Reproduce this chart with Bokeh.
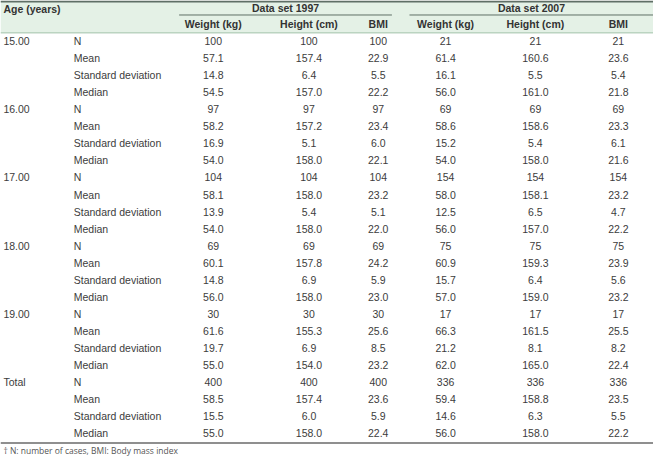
from bokeh.plotting import figure
from bokeh.models import Range1d, ColumnDataSource
from bokeh.embed import file_html
from bokeh.resources import INLINE
from bokeh.core.properties import value

# ---------------- data ----------------
ages = ["15.00", "16.00", "17.00", "18.00", "19.00", "Total"]
stats = ["N", "Mean", "Standard deviation", "Median"]
datasets = ["Data set 1997", "Data set 2007"]
measures = ["Weight (kg)", "Height (cm)", "BMI"]

weight_1997 = [100, 57.1, 14.8, 54.5, 97, 58.2, 16.9, 54.0, 104, 58.1, 13.9, 54.0,
               69, 60.1, 14.8, 56.0, 30, 61.6, 19.7, 55.0, 400, 58.5, 15.5, 55.0]
height_1997 = [100, 157.4, 6.4, 157.0, 97, 157.2, 5.1, 158.0, 104, 158.0, 5.4, 158.0,
               69, 157.8, 6.9, 158.0, 30, 155.3, 6.9, 154.0, 400, 157.4, 6.0, 158.0]
bmi_1997 = [100, 22.9, 5.5, 22.2, 97, 23.4, 6.0, 22.1, 104, 23.2, 5.1, 22.0,
            69, 24.2, 5.9, 23.0, 30, 25.6, 8.5, 23.2, 400, 23.6, 5.9, 22.4]
weight_2007 = [21, 61.4, 16.1, 56.0, 69, 58.6, 15.2, 54.0, 154, 58.0, 12.5, 56.0,
               75, 60.9, 15.7, 57.0, 17, 66.3, 21.2, 62.0, 336, 59.4, 14.6, 56.0]
height_2007 = [21, 160.6, 5.5, 161.0, 69, 158.6, 5.4, 158.0, 154, 158.1, 6.5, 157.0,
               75, 159.3, 6.4, 159.0, 17, 161.5, 8.1, 165.0, 336, 158.8, 6.3, 158.0]
bmi_2007 = [21, 23.6, 5.4, 21.8, 69, 23.3, 6.1, 21.6, 154, 23.2, 4.7, 22.2,
            75, 23.9, 5.6, 23.2, 17, 25.5, 8.2, 22.4, 336, 23.5, 5.5, 22.2]

footnote = "\u2020 N: number of cases, BMI: Body mass index"

# ---------------- layout (reference pixel space) ----------------
W, H = 669, 472
FONT = value("Liberation Sans")
TXT = "#3c3c3c"
row0, pitch = 42.0, 17.65
col_x = [218, 316, 387, 456, 548, 633]
label_x, age_x = 75, 3

p = figure(width=653, height=456, output_backend="svg", toolbar_location=None,
           x_range=Range1d(0, W), y_range=Range1d(H, 0),
           x_axis_location=None, y_axis_location=None, min_border=0)
p.outline_line_color = None
p.grid.visible = False
p.background_fill_color = "white"
p.border_fill_color = "white"

# header band and rules
p.quad(left=[0], right=[W], top=[0.5], bottom=[33], fill_color="#e4f1e6", line_color=None)
p.segment(x0=[0], y0=[1], x1=[W], y1=[1], line_color="#5f6f66", line_width=2)
p.segment(x0=[183, 419], y0=[15, 15], x1=[401, W], y1=[15, 15], line_color="#5f6f66", line_width=1)
p.segment(x0=[0], y0=[33.5], x1=[W], y1=[33.5], line_color="#9dbfa6", line_width=1)
p.segment(x0=[0], y0=[458], x1=[W], y1=[458], line_color="#6a6a6a", line_width=1.5)

# header texts
p.text(x=[age_x], y=[9], text=["Age (years)"], text_font=FONT, text_font_size="10.5px",
       text_font_style="bold", text_color="#333333", text_baseline="middle", text_align="left")
p.text(x=[292, 544], y=[8, 8], text=datasets, text_font=FONT, text_font_size="10.5px",
       text_font_style="bold", text_color="#333333", text_baseline="middle", text_align="center")
p.text(x=col_x, y=[24] * 6, text=measures * 2, text_font=FONT, text_font_size="10.5px",
       text_font_style="bold", text_color="#333333", text_baseline="middle", text_align="center")

# body
nrows = len(ages) * len(stats)
ys = [row0 + i * pitch for i in range(nrows)]
p.text(x=[age_x] * len(ages), y=[ys[i * 4] for i in range(len(ages))], text=ages,
       text_font=FONT, text_font_size="10.5px", text_color=TXT,
       text_baseline="middle", text_align="left")
p.text(x=[label_x] * nrows, y=ys, text=stats * len(ages),
       text_font=FONT, text_font_size="10.5px", text_color=TXT,
       text_baseline="middle", text_align="left")

def fmt(vals):
    return [str(int(v)) if i % 4 == 0 else f"{v:.1f}" for i, v in enumerate(vals)]

for cx, vals in zip(col_x, [weight_1997, height_1997, bmi_1997,
                            weight_2007, height_2007, bmi_2007]):
    src = ColumnDataSource(dict(x=[cx] * nrows, y=ys, t=fmt(vals)))
    p.text(x="x", y="y", text="t", source=src, text_font=FONT, text_font_size="10.5px",
           text_color=TXT, text_baseline="middle", text_align="center")

p.text(x=[age_x], y=[466], text=[footnote], text_font=value("Open Sans"),
       text_font_size="8.5px", text_color="#555555", text_baseline="middle", text_align="left")

open("out.html", "w").write(file_html(p, INLINE))
